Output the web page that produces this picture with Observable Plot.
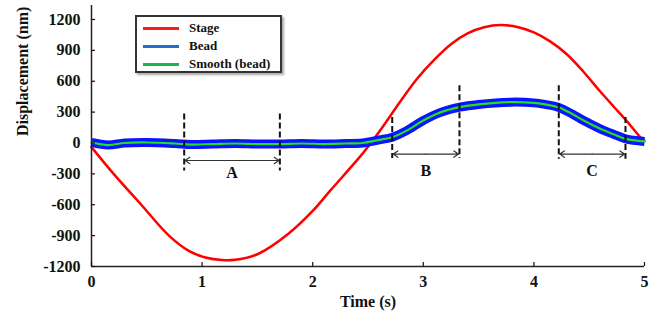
<!DOCTYPE html>
<html>
<head>
<meta charset="utf-8">
<script src="https://cdn.jsdelivr.net/npm/d3@7"></script>
<script src="https://cdn.jsdelivr.net/npm/@observablehq/plot@0.6"></script>
<style>
  html, body { margin: 0; padding: 0; background: #fff; }
  #wrap { position: relative; width: 650px; height: 322px; font-family: "Liberation Serif", "Times New Roman", serif; }
  #legend { position: absolute; left: 135px; top: 15px; width: 143px; height: 52px; border: 2px solid #333;
            box-shadow: 2px 2px 2px #aaa; background: #fff; padding-top: 2px; }
  .row { display: flex; align-items: center; height: 18px; }
  .swatch { width: 36px; height: 3px; margin-left: 6px; margin-right: 10px; }
  .lab { font-weight: bold; font-size: 13px; color: #111; }
</style>
</head>
<body>
<div id="wrap"></div>
<script>
// Stage (red) displacement
const stageTime = [0, 0.2, 0.45, 0.7, 0.88, 1.03, 1.18, 1.3, 1.51, 1.78, 2.0, 2.16, 2.43, 2.54, 2.64, 2.79, 2.94, 3.1, 3.25, 3.4, 3.55, 3.7, 3.85, 4.0, 4.15, 4.3, 4.45, 4.6, 4.72, 4.83, 4.98, 5.0];
const stageDisp = [-40, -300, -600, -900, -1048, -1113, -1138, -1135, -1076, -882, -660, -461, -130, 20, 167, 400, 620, 810, 960, 1065, 1125, 1146, 1128, 1075, 985, 860, 690, 500, 355, 225, 35, 20];

// Smoothed bead displacement (green), also the centre of the noisy bead trace (blue)
const beadTime = [0, 0.15, 0.3, 0.5, 0.75, 0.9, 1.1, 1.3, 1.5, 1.7, 1.9, 2.1, 2.3, 2.45, 2.6, 2.72, 2.85, 3.0, 3.15, 3.33, 3.5, 3.79, 4.0, 4.1, 4.22, 4.35, 4.45, 4.6, 4.72, 4.83, 5.0];
const beadDisp = [5, -20, 0, 5, -5, -15, -10, -5, -10, -10, -5, -10, -5, 0, 30, 56, 120, 218, 295, 348, 375, 397, 390, 375, 348, 280, 218, 138, 85, 40, 15];

const xTicks = [0, 1, 2, 3, 4, 5];
const yTicks = [-1200, -900, -600, -300, 0, 300, 600, 900, 1200];

// Annotated regions
const regionLabel = ["A", "B", "C"];
const regionStart = [0.838, 2.719, 4.225];
const regionEnd = [1.703, 3.327, 4.828];
const startTop = [281, 248, 556];
const endTop = [281, 556, 248];
const dashBottom = [-272, -150, -157];
const arrowLevel = [-170, -108, -108];
const labelLevel = [-290, -268, -268];

const legendNames = ["Stage", "Bead", "Smooth (bead)"];
const legendColors = ["#ff1a1a", "#1f72c8", "#1db354"];

const stage = stageTime.map((t, i) => ({t, v: stageDisp[i]}));
const bead = beadTime.map((t, i) => ({t, v: beadDisp[i]}));
const regions = regionLabel.map((label, i) => ({
  label, start: regionStart[i], end: regionEnd[i], mid: (regionStart[i] + regionEnd[i]) / 2,
  startTop: startTop[i], endTop: endTop[i],
  bottom: dashBottom[i], arrowY: arrowLevel[i], labelY: labelLevel[i]
}));

const font = "'Liberation Serif', 'Times New Roman', serif";
const fmt = d => String(d);

const chart = Plot.plot({
  width: 650,
  height: 322,
  marginLeft: 91,
  marginRight: 6,
  marginTop: 5,
  marginBottom: 56,
  style: {fontFamily: font, color: "#111", background: "transparent"},
  x: {domain: [0, 5]},
  y: {domain: [-1200, 1336]},
  marks: [
    Plot.line(stage, {x: "t", y: "v", stroke: "#ff0000", strokeWidth: 2.5, curve: "catmull-rom"}),
    Plot.line(bead, {x: "t", y: "v", stroke: "#0a14ff", strokeWidth: 9, strokeLinecap: "butt", curve: "catmull-rom"}),
    Plot.line(bead, {x: "t", y: "v", stroke: "#22e022", strokeWidth: 2.2, curve: "catmull-rom"}),
    Plot.ruleX(regions, {x: "start", y1: "startTop", y2: "bottom", stroke: "#111", strokeWidth: 2, strokeDasharray: "6,3"}),
    Plot.ruleX(regions, {x: "end", y1: "endTop", y2: "bottom", stroke: "#111", strokeWidth: 2, strokeDasharray: "6,3"}),
    Plot.arrow(regions, {x1: "mid", x2: "start", y1: "arrowY", y2: "arrowY", stroke: "#333", strokeWidth: 1.2, headLength: 7, headAngle: 70, insetEnd: 1}),
    Plot.arrow(regions, {x1: "mid", x2: "end", y1: "arrowY", y2: "arrowY", stroke: "#333", strokeWidth: 1.2, headLength: 7, headAngle: 70, insetEnd: 1}),
    Plot.text(regions, {x: "mid", y: "labelY", text: "label", fontSize: 16, fontWeight: "bold", fill: "#111"}),
    Plot.ruleX([0], {stroke: "#222", strokeWidth: 1.5}),
    Plot.ruleY([-1200], {stroke: "#222", strokeWidth: 1.5}),
    Plot.axisY(yTicks, {tickSize: 4, dx: 4, tickFormat: () => "", label: null, strokeWidth: 1.2}),
    Plot.axisY(yTicks, {tickSize: 0, tickPadding: 11, tickFormat: fmt, fontSize: 16, fontWeight: "bold", label: null}),
    Plot.axisX(xTicks, {tickSize: 4, dy: -4, tickFormat: () => "", label: null, strokeWidth: 1.2}),
    Plot.axisX(xTicks, {tickSize: 0, tickPadding: 9, tickFormat: fmt, fontSize: 16, fontWeight: "bold", label: null}),
    Plot.text(["Displacement (nm)"], {text: d => d, frameAnchor: "left", dx: -69, rotate: -90, fontSize: 16, fontWeight: "bold", fill: "#111"}),
    Plot.text(["Time (s)"], {text: d => d, frameAnchor: "bottom", dy: 40, fontSize: 16, fontWeight: "bold", fill: "#111"})
  ]
});

const wrap = document.getElementById("wrap");
wrap.appendChild(chart);
const legend = document.createElement("div");
legend.id = "legend";
legendNames.forEach((name, i) => {
  const row = document.createElement("div");
  row.className = "row";
  const sw = document.createElement("div");
  sw.className = "swatch";
  sw.style.background = legendColors[i];
  const lab = document.createElement("span");
  lab.className = "lab";
  lab.textContent = name;
  row.appendChild(sw);
  row.appendChild(lab);
  legend.appendChild(row);
});
wrap.appendChild(legend);
</script>
</body>
</html>
